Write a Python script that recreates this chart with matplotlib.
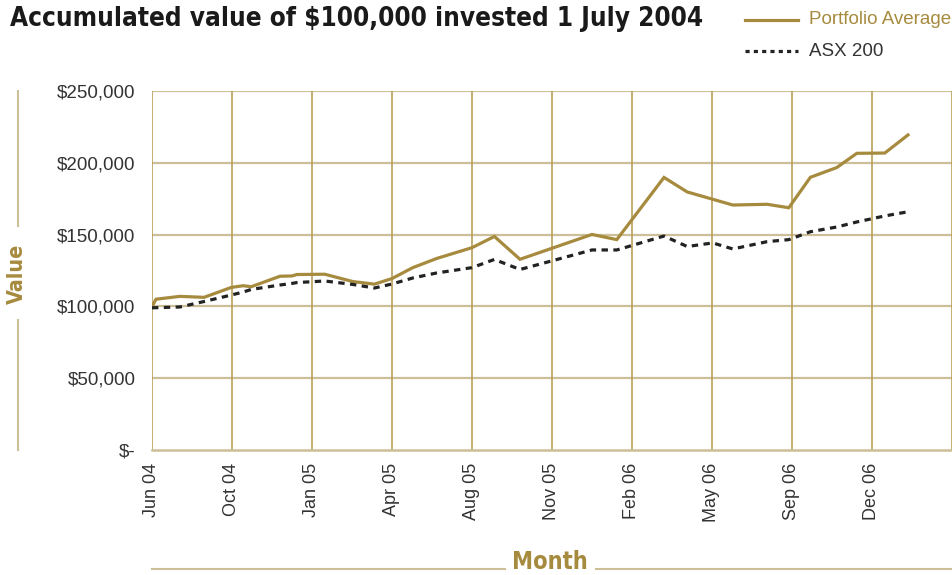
import numpy as np
import pandas as pd
import matplotlib
matplotlib.use('Agg')
import matplotlib.pyplot as plt
import matplotlib.dates as mdates
from matplotlib.lines import Line2D
from matplotlib import font_manager

# -----------------
#    data
# -----------------
dates = ['2004-06-30', '2004-07-05', '2004-08-04', '2004-09-03', '2004-10-07',
         '2004-10-22', '2004-11-01', '2004-12-07', '2004-12-22', '2004-12-28',
         '2005-02-01', '2005-03-08', '2005-04-04', '2005-04-26', '2005-05-22',
         '2005-06-21', '2005-08-04', '2005-09-01', '2005-10-03', '2006-01-01',
         '2006-02-01', '2006-04-01', '2006-04-30', '2006-06-01', '2006-06-26',
         '2006-08-08', '2006-09-04', '2006-10-01', '2006-11-03', '2006-11-28',
         '2007-01-02', '2007-01-31']

portfolio = [100000, 105000, 107000, 106300, 113200, 114400, 113700, 121000,
             121200, 122200, 122400, 117300, 115500, 119400, 127000, 133400,
             140900, 148700, 132800, 150100, 146500, 189800, 179700, 174600,
             170600, 171100, 168700, 189900, 196700, 206600, 206800, 219400]

asx200 = [99000, 99100, 99600, 103400, 107900, 110000, 111800, 114900,
          116000, 116600, 117700, 115300, 112800, 115600, 119800, 123300,
          127000, 132700, 125700, 139300, 139300, 149000, 141700, 144200,
          140000, 145100, 146500, 152000, 155300, 158800, 163000, 165900]

y_ticks = [0, 50000, 100000, 150000, 200000, 250000]
y_labels = ['$-', '$50,000', '$100,000', '$150,000', '$200,000', '$250,000']

x = pd.to_datetime(dates)
start = pd.Timestamp('2004-06-30')
x_ticks = [start + pd.Timedelta(days=100 * k) for k in range(11)]

# -----------------
#    fonts: want a condensed bold for the headings
# -----------------
cond_path = None
for f in font_manager.fontManager.ttflist:
    low = f.fname.lower()
    if ('narrow' in low or 'condensed' in low) and 'bold' in low and 'oblique' not in low \
            and 'italic' not in low:
        cond_path = f.fname
        break

def head_font(size):
    if cond_path:
        return font_manager.FontProperties(fname=cond_path, size=size)
    return font_manager.FontProperties(family=['Liberation Sans', 'DejaVu Sans'],
                                       weight='bold', size=size)

body_font = ['Liberation Sans', 'DejaVu Sans']

# -----------------
#    style
# -----------------
gold = '#a68a3e'
grid_h = '#cdbf97'
grid_v = '#b9a05c'
txt = '#333333'
W, H = 953, 575

def fx(px):
    return px / W

def fy(py):
    return 1 - py / H

fig = plt.figure(figsize=(W / 100, H / 100), dpi=100)
ax = fig.add_axes([fx(152), fy(450), fx(952) - fx(152), fy(91) - fy(450)])

ax.plot(x, portfolio, color=gold, lw=2.3, solid_joinstyle='miter', zorder=3)
ax.plot(x, asx200, color='#222222', lw=2.3, dashes=(2.0, 1.7), zorder=3)

ax.set_ylim(0, 250000)
ax.set_xlim(mdates.date2num(x_ticks[0]), mdates.date2num(x_ticks[-1]))
ax.set_yticks(y_ticks)
ax.set_yticklabels(y_labels)
ax.set_xticks(x_ticks[:-1])
ax.set_xticklabels([d.strftime('%b %y') for d in x_ticks[:-1]], rotation=90)

for v in y_ticks[1:]:
    ax.axhline(v, color=grid_h, lw=1.6, zorder=1)
for d in x_ticks:
    ax.axvline(mdates.date2num(d), color=grid_v, lw=1.2, zorder=1)

for s in ['top', 'right', 'left']:
    ax.spines[s].set_visible(False)
ax.spines['bottom'].set_color(grid_h)
ax.spines['bottom'].set_linewidth(1.8)
ax.tick_params(length=0, labelcolor=txt)
ax.tick_params(axis='y', pad=12, labelsize=13.5)
ax.tick_params(axis='x', pad=9, labelsize=13)
for lab in ax.get_xticklabels() + ax.get_yticklabels():
    lab.set_family(body_font)

renderer = fig.canvas.get_renderer()

def fit_text(t, length, vertical=False):
    # scale the font so the text spans the same pixels as in the picture
    bb = t.get_window_extent(renderer)
    cur = bb.height if vertical else bb.width
    t.set_fontsize(t.get_fontsize() * length / cur)

# title
title = fig.text(fx(10), fy(19), 'Accumulated value of $100,000 invested 1 July 2004',
                 fontproperties=head_font(20), color='#1a1a1a', va='center', ha='left')
fit_text(title, 695)

# legend
fig.add_artist(Line2D([fx(745), fx(798)], [fy(20), fy(20)], color=gold, lw=2.3))
fig.add_artist(Line2D([fx(745), fx(798)], [fy(51), fy(51)], color='#222222',
                      lw=2.3, dashes=(1.3, 1.3)))
fig.text(fx(809), fy(20), 'Portfolio Average', family=body_font, fontsize=13.5,
         color=gold, va='center', ha='left')
fig.text(fx(809), fy(51), 'ASX 200', family=body_font, fontsize=13.5,
         color=txt, va='center', ha='left')

# y axis title
ylab = fig.text(fx(17), fy(274), 'Value', fontproperties=head_font(18),
                color=gold, rotation=90, va='center', ha='center')
fit_text(ylab, 60, vertical=True)
fig.add_artist(Line2D([fx(18), fx(18)], [fy(91), fy(226)], color=grid_h, lw=1.5))
fig.add_artist(Line2D([fx(18), fx(18)], [fy(320), fy(450)], color=grid_h, lw=1.5))

# x axis title
xlab = fig.text(fx(550), fy(574), 'Month', fontproperties=head_font(18),
                color=gold, va='bottom', ha='center')
fit_text(xlab, 76)
fig.add_artist(Line2D([fx(152), fx(505)], [fy(569), fy(569)], color=grid_h, lw=1.5))
fig.add_artist(Line2D([fx(596), fx(952)], [fy(569), fy(569)], color=grid_h, lw=1.5))

fig.savefig('out.png', dpi=100, facecolor='white')
